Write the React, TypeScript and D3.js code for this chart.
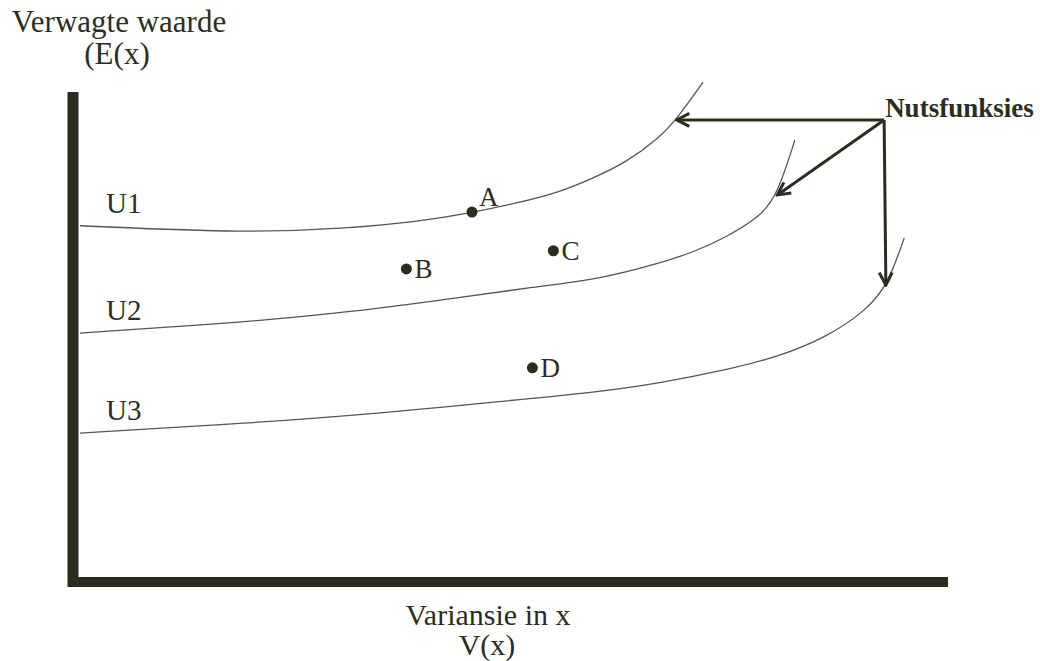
import React from 'react';
import * as d3 from 'd3';

// curve points in chart units (x: variance, y: expected value)
const u1X = [0.08, 2.02, 3.17, 3.93, 4.54, 5.07, 5.57, 5.94, 6.33, 6.71, 6.9, 7.2];
const u1Y = [7.27, 7.12, 7.22, 7.35, 7.53, 7.73, 7.96, 8.24, 8.57, 9.08, 9.45, 10.2];
const u2X = [0.08, 2.02, 3.17, 4.31, 5.26, 6.02, 6.71, 7.09, 7.47, 7.85, 8.05, 8.25];
const u2Y = [5.08, 5.31, 5.51, 5.78, 6.02, 6.18, 6.51, 6.73, 7.04, 7.45, 7.9, 9.02];
const u3X = [0.08, 2.02, 3.54, 4.69, 6.02, 6.71, 7.47, 8.05, 8.62, 9.07, 9.31, 9.5];
const u3Y = [3.04, 3.24, 3.45, 3.65, 3.88, 4.06, 4.33, 4.59, 5.0, 5.55, 6.06, 7.02];

const curveNames = ['U1', 'U2', 'U3'];
const curveLabelY = [7.53, 5.35, 3.3];

const pointNames = ['A', 'B', 'C', 'D'];
const pointX = [4.56, 3.81, 5.49, 5.25];
const pointY = [7.55, 6.39, 6.76, 4.37];

const arrowFrom = [9.27, 9.43];
const arrowToX = [6.9, 8.05, 9.29];
const arrowToY = [9.43, 7.9, 6.06];

const W = 1040;
const H = 661;
const ink = '#2b2e1f';
const serif = '"Liberation Serif", "Times New Roman", serif';

export default function App() {
  const x = d3.scaleLinear().domain([0, 10]).range([73, 948]);
  const y = d3.scaleLinear().domain([0, 10]).range([582, 92]);

  // basis smooths out the hand-read jitter in the points
  const line = d3.line<[number, number]>()
    .x(d => x(d[0]))
    .y(d => y(d[1]))
    .curve(d3.curveBasis);

  const curves = [
    d3.zip(u1X, u1Y),
    d3.zip(u2X, u2Y),
    d3.zip(u3X, u3Y),
  ] as [number, number][][];

  return (
    <div style={{ position: 'absolute', left: 0, top: 0 }}>
      <svg width={W} height={H} style={{ display: 'block', background: '#fff' }}>
        <defs>
          <marker id="chev" viewBox="0 0 16 16" refX="14" refY="8" markerWidth="16" markerHeight="16"
            markerUnits="userSpaceOnUse" orient="auto">
            <path d="M1.5,1.5 L14,8 L1.5,14.5" fill="none" stroke={ink} strokeWidth={3} />
          </marker>
        </defs>

        {curves.map((c, i) => (
          <path key={i} d={line(c) || ''} fill="none" stroke="#555" strokeWidth={1.3} />
        ))}

        {/* axes */}
        <line x1={x(0)} x2={x(0)} y1={y(10)} y2={y(0) + 5} stroke={ink} strokeWidth={11} />
        <line x1={x(0) - 5} x2={x(10)} y1={y(0)} y2={y(0)} stroke={ink} strokeWidth={10} />

        {curveNames.map((n, i) => (
          <text key={n} x={x(0) + 33} y={y(curveLabelY[i])} fontFamily={serif} fontSize={29} fill={ink}>{n}</text>
        ))}

        {pointNames.map((n, i) => (
          <g key={n}>
            <circle cx={x(pointX[i])} cy={y(pointY[i])} r={5.5} fill={ink} />
            <text x={x(pointX[i]) + (i === 0 ? 7 : 8)} y={y(pointY[i]) + (i === 0 ? -6 : 9)}
              fontFamily={serif} fontSize={27} fill={ink}>{n}</text>
          </g>
        ))}

        {arrowToX.map((tx, i) => (
          <line key={i} x1={x(arrowFrom[0])} y1={y(arrowFrom[1])} x2={x(tx)} y2={y(arrowToY[i])}
            stroke={ink} strokeWidth={3} markerEnd="url(#chev)" />
        ))}
        <text x={x(arrowFrom[0]) + 1} y={y(arrowFrom[1]) - 3} fontFamily={serif} fontSize={27}
          fontWeight="bold" fill={ink}>Nutsfunksies</text>

        <text x={119} y={32} textAnchor="middle" fontFamily={serif} fontSize={31} fill={ink}>Verwagte waarde</text>
        <text x={117} y={64} textAnchor="middle" fontFamily={serif} fontSize={31} fill={ink}>(E(x)</text>
        <text x={488} y={625} textAnchor="middle" fontFamily={serif} fontSize={30} fill={ink}>Variansie in x</text>
        <text x={487} y={655} textAnchor="middle" fontFamily={serif} fontSize={30} fill={ink}>V(x)</text>
      </svg>
    </div>
  );
}
